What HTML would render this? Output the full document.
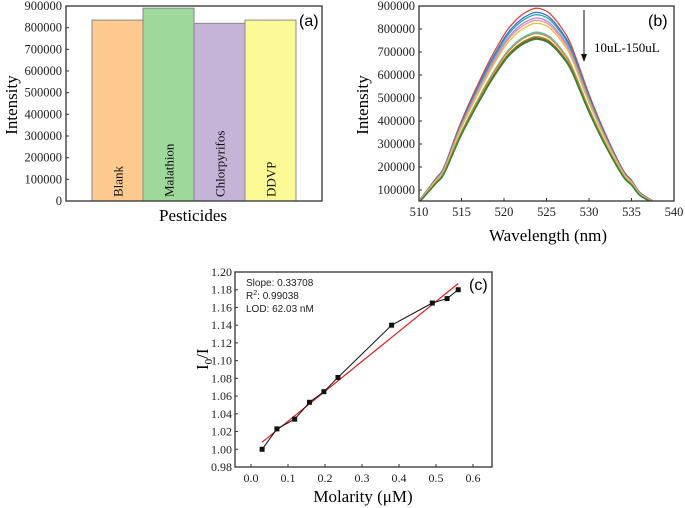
<!DOCTYPE html>
<html><head><meta charset="utf-8"><style>
html,body{margin:0;padding:0;background:#fff;}
svg{display:block;font-family:"Liberation Serif",serif;}
</style></head><body>
<svg id="fig" width="685" height="508" viewBox="0 0 685 508">
<g id="pa"></g>
<g id="pb"></g>
<g id="pc"></g>
</svg>
<script>
// ---- Panel (a) data ----
const aCategories = ["Blank","Malathion","Chlorpyrifos","DDVP"];
const aValues = [835000, 890000, 820000, 835000];
const aTicks = [0,100000,200000,300000,400000,500000,600000,700000,800000,900000];
// ---- Panel (b) data ----
const bWavelengths = [510,512,513,515,518,520,521,522,523,523.7,524.5,525.5,527,528,530,532,534,535,536,537.5];
const bProfile = [0.06,0.17,0.23,0.45,0.72,0.87,0.925,0.965,0.99,1.0,0.995,0.97,0.89,0.81,0.58,0.38,0.21,0.16,0.10,0.06];
const bPeaks = [890000,872000,862000,848000,838000,825000,786000,780000,766000,760000,755000];
const bXTicks = [510,515,520,525,530,535,540];
const bYTicks = [100000,200000,300000,400000,500000,600000,700000,800000,900000];
// ---- Panel (c) data ----
const cX = [0.03,0.07,0.118,0.158,0.197,0.235,0.38,0.49,0.53,0.56];
const cY = [1.0,1.023,1.034,1.053,1.065,1.081,1.14,1.165,1.17,1.18];
const cFitX = [0.03,0.56];
const cFitY = [1.008,1.187];
const cXTicks = [0.0,0.1,0.2,0.3,0.4,0.5,0.6];
const cYTicks = [0.98,1.00,1.02,1.04,1.06,1.08,1.10,1.12,1.14,1.16,1.18,1.20];

const NS="http://www.w3.org/2000/svg";
function mk(parent,tag,attrs,text){const e=document.createElementNS(NS,tag);for(const k in attrs)e.setAttribute(k,attrs[k]);if(text!==undefined)e.textContent=text;parent.appendChild(e);return e;}
function smooth(pts){
 let d='M'+pts[0][0].toFixed(1)+','+pts[0][1].toFixed(1);
 for(let i=0;i<pts.length-1;i++){
  const p0=pts[i-1]||pts[i],p1=pts[i],p2=pts[i+1],p3=pts[i+2]||p2;
  const c1=[p1[0]+(p2[0]-p0[0])/6,p1[1]+(p2[1]-p0[1])/6];
  const c2=[p2[0]-(p3[0]-p1[0])/6,p2[1]-(p3[1]-p1[1])/6];
  d+=` C${c1[0].toFixed(1)},${c1[1].toFixed(1)} ${c2[0].toFixed(1)},${c2[1].toFixed(1)} ${p2[0].toFixed(1)},${p2[1].toFixed(1)}`;
 }
 return d;
}

// ===== Panel A =====
(function(){
const g=document.getElementById('pa');
const L=66,R=322,T=6,B=201;
const ay=v=>B-(v/900000)*(B-T);
const bx0=92,bw=51;
const cols=["#fdc98f","#9ed89b","#c5b3d8","#fbfa96"];
aValues.forEach((v,i)=>{
 const r=mk(g,'rect',{x:bx0+i*bw,y:ay(v),width:bw,height:B-ay(v),fill:cols[i],stroke:'#8a8a8a','stroke-width':1});
 
 
 const cx=bx0+i*bw+bw/2+5;
 const t=mk(g,'text',{x:cx,y:197,'font-size':13,transform:`rotate(-90 ${cx} 197)`,fill:'#111'},aCategories[i]);
 
 
});
const fr=mk(g,'rect',{x:L,y:T,width:R-L,height:B-T,fill:'none',stroke:'#333','stroke-width':1.3});


aTicks.forEach(v=>{
 mk(g,'line',{x1:L,x2:L+3,y1:ay(v),y2:ay(v),stroke:'#333'});
 const t=mk(g,'text',{x:L-4,y:ay(v)+4,'font-size':12.5,'text-anchor':'end',fill:'#222'},String(v));
 
 
});
let t=mk(g,'text',{x:17,y:105,'font-size':17,'text-anchor':'middle',transform:'rotate(-90 17 105)'},'Intensity');


t=mk(g,'text',{x:193,y:221,'font-size':17,'text-anchor':'middle'},'Pesticides');


t=mk(g,'text',{x:299,y:26,'font-size':16,'text-anchor':'start','font-family':'Liberation Sans, sans-serif'},'(a)');


})();

// ===== Panel B =====
(function(){
const g=document.getElementById('pb');
const L=419,R=674,T=6,B=201;
const bxS=w=>L+(w-510)/30*(R-L);
const byS=v=>190-(v-100000)/100000*23;
mk(g,'defs',{}).innerHTML='<clipPath id="cb"><rect x="419" y="6" width="255" height="195"/></clipPath>';
const cols=["#e0403f","#3a6fd0","#2ea8a0","#b08ad8","#e88fb0","#e6c23a","#38c8d8","#e0862a","#8a8a2a","#a04a20","#2a8a3a","#c84a4a"];
const lg=mk(g,'g',{'clip-path':'url(#cb)'});
bPeaks.forEach((pk,i)=>{
 const pts=bWavelengths.map((w,j)=>[bxS(w),byS(bProfile[j]*pk)]);
 const p=mk(lg,'path',{d:smooth(pts),fill:'none',stroke:cols[i%cols.length],'stroke-width':1.3,'stroke-linejoin':'round'});
 
 
});
const fr=mk(g,'rect',{x:L,y:T,width:R-L,height:B-T,fill:'none',stroke:'#333','stroke-width':1.3});


bYTicks.forEach(v=>{
 mk(g,'line',{x1:L,x2:L+3,y1:byS(v),y2:byS(v),stroke:'#333'});
 const t=mk(g,'text',{x:L-4,y:byS(v)+4,'font-size':12.5,'text-anchor':'end',fill:'#222'},String(v));
 
 
});
bXTicks.forEach(v=>{
 mk(g,'line',{x1:bxS(v),x2:bxS(v),y1:B,y2:B-3,stroke:'#333'});
 const t=mk(g,'text',{x:bxS(v),y:216,'font-size':12.5,'text-anchor':'middle',fill:'#222'},String(v));
 
 
});
let t=mk(g,'text',{x:368,y:105,'font-size':17,'text-anchor':'middle',transform:'rotate(-90 368 105)'},'Intensity');


t=mk(g,'text',{x:548,y:241,'font-size':17,'text-anchor':'middle'},'Wavelength (nm)');


const ar=mk(g,'g',{});


mk(ar,'line',{x1:584,x2:584,y1:10,y2:56,stroke:'#111','stroke-width':1});
mk(ar,'path',{d:'M581,54 L587,54 L584,62 Z',fill:'#111'});
t=mk(g,'text',{x:594,y:52,'font-size':13},'10uL-150uL');


t=mk(g,'text',{x:648,y:26,'font-size':16,'font-family':'Liberation Sans, sans-serif'},'(b)');


})();

// ===== Panel C =====
(function(){
const g=document.getElementById('pc');
const L=235,R=492,T=272,B=467;
const cxS=v=>251+v/0.6*(473-251);
const cyS=v=>B-(v-0.98)/0.22*(B-T);
const fit=mk(g,'line',{x1:cxS(cFitX[0]),y1:cyS(cFitY[0]),x2:cxS(cFitX[1]),y2:cyS(cFitY[1]),stroke:'#e02020','stroke-width':1.2});


const d=cX.map((x,i)=>(i?'L':'M')+cxS(x).toFixed(1)+','+cyS(cY[i]).toFixed(1)).join(' ');
const ln=mk(g,'path',{d:d,fill:'none',stroke:'#111','stroke-width':1});


cX.forEach((x,i)=>{
 const r=mk(g,'rect',{x:cxS(x)-2.5,y:cyS(cY[i])-2.5,width:5,height:5,fill:'#111'});
 
 
});
const fr=mk(g,'rect',{x:L,y:T,width:R-L,height:B-T,fill:'none',stroke:'#333','stroke-width':1.3});


cYTicks.forEach(v=>{
 mk(g,'line',{x1:L,x2:L+3,y1:cyS(v),y2:cyS(v),stroke:'#333'});
 const t=mk(g,'text',{x:L-3,y:cyS(v)+4,'font-size':12,'text-anchor':'end',fill:'#222'},v.toFixed(2));
 
 
});
cXTicks.forEach(v=>{
 mk(g,'line',{x1:cxS(v),x2:cxS(v),y1:B,y2:B-3,stroke:'#333'});
 const t=mk(g,'text',{x:cxS(v),y:482,'font-size':12,'text-anchor':'middle',fill:'#222'},v.toFixed(1));
 
 
});
let t=mk(g,'text',{x:208,y:370,'font-size':17,transform:'rotate(-90 208 370)'});
t.innerHTML='I<tspan font-size="11" dy="4">0</tspan><tspan dy="-4">/I</tspan>';


t=mk(g,'text',{x:363,y:502,'font-size':17,'text-anchor':'middle'},'Molarity (μM)');


const st=mk(g,'g',{'font-family':'Liberation Sans, sans-serif','font-size':10,fill:'#222'});


mk(st,'text',{x:246,y:286},'Slope: 0.33708');
const r2=mk(st,'text',{x:246,y:299});
r2.innerHTML='R<tspan font-size="7" dy="-4">2</tspan><tspan dy="4">: 0.99038</tspan>';
mk(st,'text',{x:246,y:312},'LOD: 62.03 nM');
t=mk(g,'text',{x:469,y:290,'font-size':16,'font-family':'Liberation Sans, sans-serif'},'(c)');


})();
</script>
</body></html>
